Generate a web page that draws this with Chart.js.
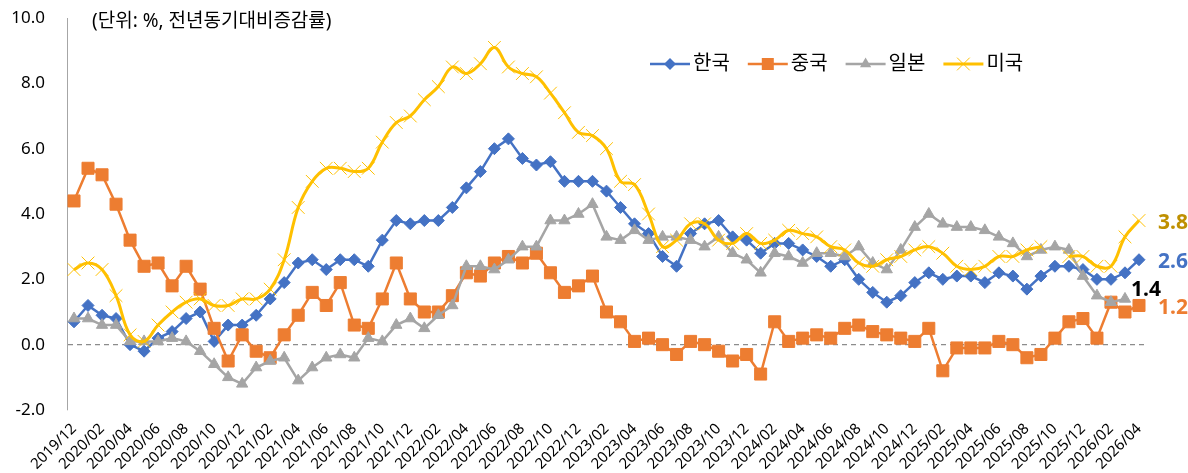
<!DOCTYPE html>
<html lang="ko">
<head>
<meta charset="utf-8">
<title>한국·중국·일본·미국 소비자물가 상승률</title>
<script src="https://cdn.jsdelivr.net/npm/chart.js@4.4.1/dist/chart.umd.min.js"></script>
<style>
  html, body { margin: 0; padding: 0; background: #fff; }
  #wrap { width: 1188px; height: 473px; }
</style>
</head>
<body>
<div id="wrap"><canvas id="cpiChart" width="1188" height="473"></canvas></div>
<script>
// ── Data (전년동기대비, %) ─────────────────────────────────────────
const months = [
  "2019/12",
  "2020/01", "2020/02", "2020/03", "2020/04", "2020/05", "2020/06", "2020/07", "2020/08", "2020/09", "2020/10", "2020/11", "2020/12",
  "2021/01", "2021/02", "2021/03", "2021/04", "2021/05", "2021/06", "2021/07", "2021/08", "2021/09", "2021/10", "2021/11", "2021/12",
  "2022/01", "2022/02", "2022/03", "2022/04", "2022/05", "2022/06", "2022/07", "2022/08", "2022/09", "2022/10", "2022/11", "2022/12",
  "2023/01", "2023/02", "2023/03", "2023/04", "2023/05", "2023/06", "2023/07", "2023/08", "2023/09", "2023/10", "2023/11", "2023/12",
  "2024/01", "2024/02", "2024/03", "2024/04", "2024/05", "2024/06", "2024/07", "2024/08", "2024/09", "2024/10", "2024/11", "2024/12",
  "2025/01", "2025/02", "2025/03", "2025/04", "2025/05", "2025/06", "2025/07", "2025/08", "2025/09", "2025/10", "2025/11", "2025/12",
  "2026/01", "2026/02", "2026/03", "2026/04"
];

const korea = [
  0.7,
  1.2, 0.9, 0.8, 0.0, -0.2, 0.2, 0.4, 0.8, 1.0, 0.1, 0.6, 0.6,
  0.9, 1.4, 1.9, 2.5, 2.6, 2.3, 2.6, 2.6, 2.4, 3.2, 3.8, 3.7,
  3.8, 3.8, 4.2, 4.8, 5.3, 6.0, 6.3, 5.7, 5.5, 5.6, 5.0, 5.0,
  5.0, 4.7, 4.2, 3.7, 3.4, 2.7, 2.4, 3.4, 3.7, 3.8, 3.3, 3.2,
  2.8, 3.1, 3.1, 2.9, 2.7, 2.4, 2.6, 2.0, 1.6, 1.3, 1.5, 1.9,
  2.2, 2.0, 2.1, 2.1, 1.9, 2.2, 2.1, 1.7, 2.1, 2.4, 2.4, 2.3,
  2.0, 2.0, 2.2, 2.6
];

const china = [
  4.4,
  5.4, 5.2, 4.3, 3.2, 2.4, 2.5, 1.8, 2.4, 1.7, 0.5, -0.5, 0.3,
  -0.2, -0.4, 0.3, 0.9, 1.6, 1.2, 1.9, 0.6, 0.5, 1.4, 2.5, 1.4,
  1.0, 1.0, 1.5, 2.2, 2.1, 2.5, 2.7, 2.5, 2.8, 2.2, 1.6, 1.8,
  2.1, 1.0, 0.7, 0.1, 0.2, 0.0, -0.3, 0.1, 0.0, -0.2, -0.5, -0.3,
  -0.9, 0.7, 0.1, 0.2, 0.3, 0.2, 0.5, 0.6, 0.4, 0.3, 0.2, 0.1,
  0.5, -0.8, -0.1, -0.1, -0.1, 0.1, 0.0, -0.4, -0.3, 0.2, 0.7, 0.8,
  0.2, 1.3, 1.0, 1.2
];

const japan = [
  0.8,
  0.8, 0.6, 0.6, 0.1, 0.1, 0.1, 0.2, 0.1, -0.2, -0.6, -1.0, -1.2,
  -0.7, -0.5, -0.4, -1.1, -0.7, -0.4, -0.3, -0.4, 0.2, 0.1, 0.6, 0.8,
  0.5, 0.9, 1.2, 2.4, 2.4, 2.3, 2.6, 3.0, 3.0, 3.8, 3.8, 4.0,
  4.3, 3.3, 3.2, 3.5, 3.2, 3.3, 3.3, 3.2, 3.0, 3.3, 2.8, 2.6,
  2.2, 2.8, 2.7, 2.5, 2.8, 2.8, 2.7, 3.0, 2.5, 2.3, 2.9, 3.6,
  4.0, 3.7, 3.6, 3.6, 3.5, 3.3, 3.1, 2.7, 2.9, 3.0, 2.9, 2.1,
  1.5, 1.3, 1.4, null
];

// 2025/10 미국 CPI 미발표 → 공백
const usa = [
  2.3,
  2.5, 2.3, 1.5, 0.3, 0.1, 0.6, 1.0, 1.3, 1.4, 1.2, 1.2, 1.4,
  1.4, 1.7, 2.6, 4.2, 5.0, 5.4, 5.4, 5.3, 5.4, 6.2, 6.8, 7.0,
  7.5, 7.9, 8.5, 8.3, 8.6, 9.1, 8.5, 8.3, 8.2, 7.7, 7.1, 6.5,
  6.4, 6.0, 5.0, 4.9, 4.0, 3.0, 3.2, 3.7, 3.7, 3.2, 3.1, 3.4,
  3.1, 3.2, 3.5, 3.4, 3.3, 3.0, 2.9, 2.5, 2.4, 2.6, 2.7, 2.9,
  3.0, 2.8, 2.4, 2.3, 2.4, 2.7, 2.7, 2.9, 3.0, null, 2.7, 2.7,
  2.4, 2.4, 3.3, 3.8
];

const yTicks = [-2, 0, 2, 4, 6, 8, 10];
const unitNote = "(단위: %, 전년동기대비증감률)";

// ── Styles ─────────────────────────────────────────────────────────
const FONT = "'Noto Sans', 'Noto Sans CJK KR', sans-serif";
Chart.defaults.font.family = FONT;
Chart.defaults.color = "#000";

function drawMarker(ctx, style, r, x, y, color) {
  ctx.save();
  ctx.fillStyle = color;
  ctx.strokeStyle = color;
  ctx.lineWidth = 1;
  ctx.beginPath();
  if (style === "rectRot") {
    ctx.moveTo(x, y - r); ctx.lineTo(x + r, y); ctx.lineTo(x, y + r); ctx.lineTo(x - r, y);
    ctx.closePath(); ctx.fill();
  } else if (style === "rect") {
    const s = r * Math.SQRT1_2;
    ctx.rect(x - s, y - s, 2 * s, 2 * s); ctx.fill();
  } else if (style === "triangle") {
    const h = r * Math.sin(Math.PI / 3);
    ctx.moveTo(x, y - r); ctx.lineTo(x + h, y + r / 2); ctx.lineTo(x - h, y + r / 2);
    ctx.closePath(); ctx.fill();
  } else if (style === "crossRot") {
    const s = r * Math.SQRT1_2;
    ctx.moveTo(x - s, y - s); ctx.lineTo(x + s, y + s);
    ctx.moveTo(x + s, y - s); ctx.lineTo(x - s, y + s);
    ctx.stroke();
  }
  ctx.restore();
}

const decorPlugin = {
  id: "decor",
  afterDraw(chart) {
    const ctx = chart.ctx;

    // unit note
    ctx.save();
    ctx.font = "19px " + FONT;
    ctx.fillStyle = "#000";
    ctx.textAlign = "left";
    ctx.textBaseline = "middle";
    ctx.fillText(unitNote, 92, 22);
    ctx.restore();

    // legend (in legend order, inside plot)
    let x = 650;
    const ly = 64;
    ctx.save();
    ctx.font = "20px " + FONT;
    ctx.textBaseline = "middle";
    ctx.textAlign = "left";
    chart.data.datasets.forEach((ds) => {
      ctx.strokeStyle = ds.borderColor;
      ctx.lineWidth = ds.borderWidth;
      ctx.beginPath();
      ctx.moveTo(x, ly);
      ctx.lineTo(x + 40, ly);
      ctx.stroke();
      drawMarker(ctx, ds.pointStyle, ds.pointRadius, x + 20, ly, ds.pointBorderColor);
      ctx.fillStyle = "#000";
      ctx.fillText(ds.label, x + 43, ly);
      x += 43 + ctx.measureText(ds.label).width + 18;
    });
    ctx.restore();

    // end-of-series value labels
    chart.data.datasets.forEach((ds, i) => {
      if (!ds.endLabel) return;
      const meta = chart.getDatasetMeta(i);
      let last = ds.data.length - 1;
      while (last >= 0 && ds.data[last] === null) last--;
      const pt = meta.data[last];
      ctx.save();
      ctx.font = "bold 21px " + FONT;
      ctx.fillStyle = ds.endLabel.color;
      ctx.textAlign = "left";
      ctx.textBaseline = "middle";
      ctx.fillText(ds.data[last].toFixed(1), pt.x + ds.endLabel.dx, pt.y + ds.endLabel.dy);
      ctx.restore();
    });
  }
};

new Chart(document.getElementById("cpiChart"), {
  type: "line",
  data: {
    labels: months,
    datasets: [
      {
        label: "한국", data: korea, order: 3,
        borderColor: "#4472C4", borderWidth: 2.5, tension: 0,
        pointStyle: "rectRot", pointRadius: 6, pointBackgroundColor: "#4472C4", pointBorderColor: "#4472C4", pointBorderWidth: 1,
        endLabel: { color: "#4472C4", dx: 19, dy: 2 }
      },
      {
        label: "중국", data: china, order: 2,
        borderColor: "#ED7D31", borderWidth: 2.5, tension: 0,
        pointStyle: "rect", pointRadius: 8.5, pointBackgroundColor: "#ED7D31", pointBorderColor: "#ED7D31", pointBorderWidth: 1,
        endLabel: { color: "#ED7D31", dx: 19, dy: 3 }
      },
      {
        label: "일본", data: japan, order: 1,
        borderColor: "#A5A5A5", borderWidth: 2.5, tension: 0,
        pointStyle: "triangle", pointRadius: 6.5, pointBackgroundColor: "#A5A5A5", pointBorderColor: "#A5A5A5", pointBorderWidth: 1,
        endLabel: { color: "#000", dx: 6, dy: -9 }
      },
      {
        label: "미국", data: usa, order: 0,
        borderColor: "#FFC000", borderWidth: 3, tension: 0.4, spanGaps: false,
        pointStyle: "crossRot", pointRadius: 9, pointBackgroundColor: "#FFC000", pointBorderColor: "#FFC000", pointBorderWidth: 1,
        endLabel: { color: "#BF9000", dx: 19, dy: 2 }
      }
    ]
  },
  options: {
    responsive: false,
    animation: false,
    layout: { padding: { left: 0, top: 18, right: 42, bottom: 0 } },
    plugins: { legend: { display: false }, tooltip: { enabled: false } },
    scales: {
      x: {
        offset: true,
        grid: { display: false },
        border: { display: false },
        ticks: {
          autoSkip: false,
          minRotation: 45,
          maxRotation: 45,
          padding: 2,
          font: { size: 15 },
          color: "#000",
          callback(value, index) {
            return index % 2 === 0 ? this.getLabelForValue(value) : null;
          }
        },
        afterFit(scale) { scale.height = 63; }
      },
      y: {
        min: yTicks[0],
        max: yTicks[yTicks.length - 1],
        afterBuildTicks(scale) { scale.ticks = yTicks.map((v) => ({ value: v })); },
        grid: {
          drawTicks: true,
          tickLength: 20,
          tickColor: "rgba(0,0,0,0)",
          lineWidth: 1.3,
          color: (c) => (c.tick && c.tick.value === 0 ? "#8C8C8C" : "rgba(0,0,0,0)")
        },
        border: { display: true, color: "#A6A6A6", width: 1, dash: [5, 4] },
        ticks: {
          padding: 2,
          font: { size: 17 },
          color: "#000",
          callback: (v) => Number(v).toFixed(1)
        },
        afterFit(scale) { scale.width = 67; }
      }
    }
  },
  plugins: [decorPlugin]
});
</script>
</body>
</html>
